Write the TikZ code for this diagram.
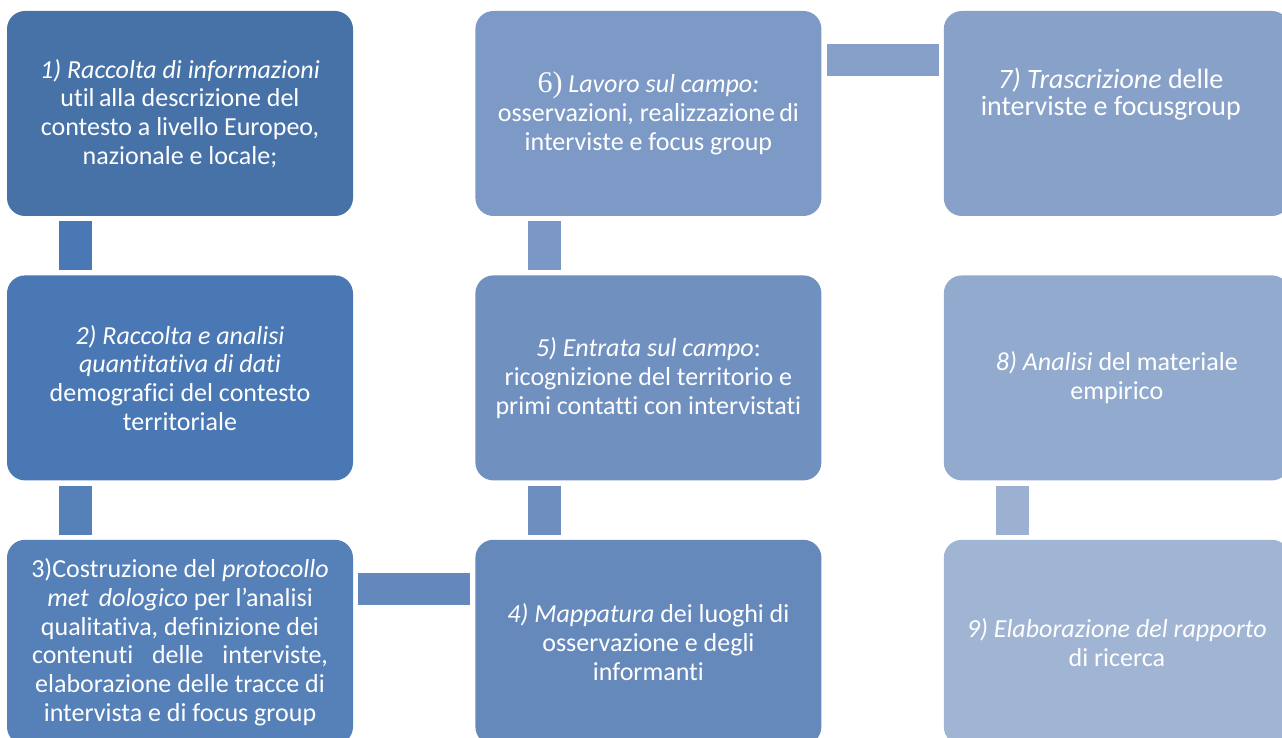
\documentclass[tikz,border=0pt]{standalone}
\usepackage{fontspec}
\setmainfont{Carlito}[Ligatures=NoCommon]
\newfontfamily\numserif{Liberation Serif}
\usetikzlibrary{positioning}

\definecolor{box1}{HTML}{4672A8}
\definecolor{box2}{HTML}{4A78B4}
\definecolor{box3}{HTML}{5580B8}
\definecolor{box4}{HTML}{6689BC}
\definecolor{box5}{HTML}{7091C0}
\definecolor{box6}{HTML}{7D9AC6}
\definecolor{box7}{HTML}{87A1C9}
\definecolor{box8}{HTML}{93AACF}
\definecolor{box9}{HTML}{A0B4D3}

\definecolor{bar12}{HTML}{4A78B4}
\definecolor{bar23}{HTML}{5580B8}
\definecolor{bar34}{HTML}{6388BC}
\definecolor{bar45}{HTML}{6E8EC0}
\definecolor{bar56}{HTML}{7A97C5}
\definecolor{bar67}{HTML}{86A0C9}
\definecolor{bar89}{HTML}{9CB0D2}

\begin{document}
\begin{tikzpicture}[node distance=59pt and 122pt,
                stage/.style={rectangle,rounded corners=18pt,minimum width=346pt,minimum height=205pt,
                              inner sep=2pt,align=center,text=white,font=\fontsize{26}{28.8}\selectfont},
                vbar/.style={line width=33pt,shorten <=5pt,shorten >=5pt},
                hbar/.style={line width=32pt,shorten <=5pt,shorten >=5pt}]

                \clip (0,0) rectangle (1282pt,-738pt);

                \node[stage,fill=box1] (s1) at (180pt,-113.5pt) {\textit{1) Raccolta di informazioni}\\ util\,alla descrizione del\\ contesto a livello Europeo,\\ nazionale e locale;};

                \node[stage,fill=box2] (s2) [below=of s1] {\textit{2) Raccolta e analisi}\\ \textit{quantitativa di dati}\\ demografici del contesto\\ territoriale};

                \node[stage,fill=box3] (s3) [below=of s2] {3)Costruzione del \textit{protocollo}\\ \textit{met\hspace{10pt}dologico} per l'analisi\\ qualitativa, definizione dei\\ \makebox[296pt][s]{contenuti delle interviste,}\\ elaborazione delle tracce di\\ intervista e di focus group};

                \node[stage,fill=box4] (s4) [right=of s3] {\textit{4) Mappatura} dei luoghi di\\ osservazione e degli\\ informanti};

                \node[stage,fill=box5] (s5) [above=of s4] {\textit{5) Entrata sul campo}:\\ ricognizione del territorio e\\ primi contatti con intervistati};

                \node[stage,fill=box6] (s6) [above=of s5] {{\numserif\fontsize{30}{28.8}\selectfont 6)} \textit{Lavoro sul campo:}\\ osservazioni, realizzazione\,di\\ interviste e focus group};

                \node[stage,fill=box7] (s7) [right=of s6] {};

                \node[stage,fill=box8] (s8) [below=of s7] {\textit{8) Analisi} del materiale\\ empirico};

                \node[stage,fill=box9] (s9) [below=of s8] {\textit{9) Elaborazione del rapporto}\\ di ricerca};

                % text of step 7 sits high in its box
                \node[align=center,text=white,font=\fontsize{28}{27}\selectfont] (t7) at ([xshift=-6pt,yshift=19pt]s7.center) {\textit{7) Trascrizione} delle\\ interviste e focusgroup};

                \foreach \from/\to/\col in {s1/s2/bar12, s2/s3/bar23, s6/s5/bar56, s5/s4/bar45, s8/s9/bar89}
                    {
                    \draw[vbar,draw=\col] ([xshift=69pt]\from.south west) -- ([xshift=69pt]\to.north west);
                    }

                \foreach \from/\to/\col in {s3/s4/bar34, s6/s7/bar67}
                    {
                    \draw[hbar,draw=\col] ([yshift=-49pt]\from.north east) -- ([yshift=-49pt]\to.north west);
                    }

            \end{tikzpicture}
\end{document}
